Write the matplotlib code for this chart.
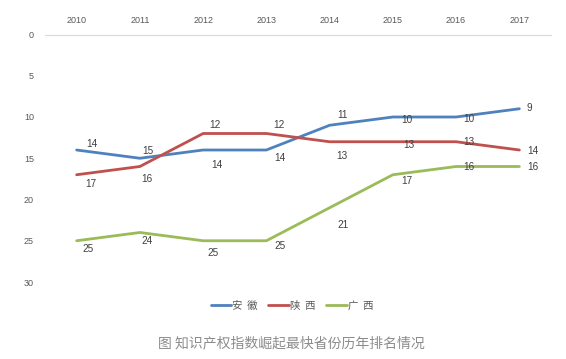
import matplotlib
matplotlib.use("Agg")
import matplotlib.pyplot as plt

# ── DATOS ─────────────────────────────────────────
anos = ["2010", "2011", "2012", "2013", "2014", "2015", "2016", "2017"]
anhui = [14, 15, 14, 14, 11, 10, 10, 9]
shaanxi = [17, 16, 12, 12, 13, 13, 13, 14]
guangxi = [25, 24, 25, 25, 21, 17, 16, 16]
nombres = ["安  徽", "陕  西", "广  西"]
titulo = "图 知识产权指数崛起最快省份历年排名情况"

# desplazamientos de etiquetas (px, y hacia abajo positivo)
off_anhui = [(10, -6, "left"), (8, -7, "center"), (14, 15, "center"), (14, 8, "center"),
             (13, -10, "center"), (14, 3, "center"), (13, 2, "center"), (7, -1, "left")]
off_shaanxi = [(9, 9, "left"), (7, 13, "center"), (12, -8, "center"), (13, -8, "center"),
               (12, 14, "center"), (16, 3, "center"), (13, 0, "center"), (8, 1, "left")]
off_guangxi = [(11, 8, "center"), (7, 9, "center"), (10, 12, "center"), (14, 5, "center"),
               (13, 17, "center"), (14, 6, "center"), (13, 1, "center"), (8, 1, "left")]

colores = ["#4F81BD", "#C0504D", "#9BBB59"]

W, H = 566, 359
fig = plt.figure(figsize=(W / 100, H / 100), dpi=100)
ax = fig.add_axes([45 / W, 1 - 282 / H, (551 - 45) / W, (282 - 34.5) / H])

x = list(range(len(anos)))
series = [anhui, shaanxi, guangxi]
offs = [off_anhui, off_shaanxi, off_guangxi]
for vals, col, nom, off in zip(series, colores, nombres, offs):
    ax.plot(x, vals, color=col, lw=2.0, label=nom, solid_capstyle="round")
    for xi, v, (dx, dy, ha) in zip(x, vals, off):
        ax.annotate(str(v), (xi, v), xytext=(dx, -dy), textcoords="offset pixels",
                    ha=ha, va="center", fontsize=7.2, color="#404040",
                    family="Liberation Sans")

ax.set_xlim(-0.5, len(anos) - 0.5)
ax.set_ylim(30, 0)
ax.set_yticks(range(0, 31, 5))
ax.set_xticks(x)
ax.set_xticklabels(anos)
ax.xaxis.tick_top()
ax.tick_params(axis="x", length=0, pad=7, labelsize=6.5, labelcolor="#595959")
ax.tick_params(axis="y", length=0, pad=8, labelsize=6.5, labelcolor="#595959")
for lab in ax.get_xticklabels() + ax.get_yticklabels():
    lab.set_family("Liberation Sans")

for s in ["left", "right", "bottom"]:
    ax.spines[s].set_visible(False)
ax.spines["top"].set_color("#D9D9D9")
ax.spines["top"].set_linewidth(0.8)

leg = fig.legend(loc="center", bbox_to_anchor=(292 / W, 1 - 306 / H), ncol=3,
                 frameon=False, handlelength=2.0, handletextpad=0.1,
                 columnspacing=1.0, prop={"family": "Noto Sans CJK SC", "size": 7.5})
for t in leg.get_texts():
    t.set_color("#595959")

fig.text(291 / W, 1 - 343 / H, titulo, ha="center", va="center", fontsize=10,
         color="#8C8C8C", family="Noto Sans CJK SC")

plt.savefig("out.png", dpi=100)
